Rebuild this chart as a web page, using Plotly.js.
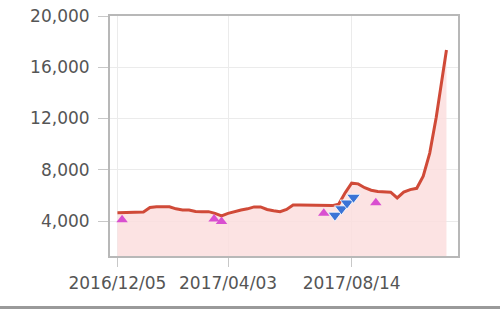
<!DOCTYPE html>
<html><head><meta charset="utf-8">
<script src="https://cdn.plot.ly/plotly-3.0.1.min.js"></script>
<style>html,body{margin:0;padding:0;background:#fff}#chart{width:500px;height:309px}</style>
</head><body><div id="chart"></div>
<script>
const lineDates = ["2016-12-05","2016-12-12","2016-12-19","2016-12-26","2017-01-02","2017-01-09","2017-01-16","2017-01-23","2017-01-30","2017-02-06","2017-02-13","2017-02-20","2017-02-27","2017-03-06","2017-03-13","2017-03-20","2017-03-27","2017-04-03","2017-04-10","2017-04-17","2017-04-24","2017-05-01","2017-05-08","2017-05-15","2017-05-22","2017-05-29","2017-06-05","2017-06-12","2017-06-19","2017-06-26","2017-07-03","2017-07-10","2017-07-17","2017-07-24","2017-07-31","2017-08-07","2017-08-14","2017-08-21","2017-08-28","2017-09-04","2017-09-11","2017-09-18","2017-09-25","2017-10-02","2017-10-09","2017-10-16","2017-10-23","2017-10-30","2017-11-06","2017-11-13","2017-11-17","2017-11-21","2017-11-24"];
const lineValues = [4650,4650,4650,4650,4700,5050,5115,5115,5115,4950,4860,4860,4740,4730,4730,4600,4400,4600,4750,4860,4950,5100,5100,4900,4800,4730,4900,5250,5250,5250,5250,5250,5200,5200,5300,6200,6950,6900,6600,6400,6300,6300,6250,5800,6250,6450,6550,7500,9300,12100,14000,15800,17350];
const pinkDates = ["2016-12-10","2017-03-19","2017-03-27","2017-07-15","2017-09-09"];
const pinkValues = [4100,4150,3960,4600,5430];
const blueDates = ["2017-07-27","2017-08-03","2017-08-09","2017-08-16"];
const blueValues = [4450,4950,5400,5850];
const tickDates = ["2016-12-05","2017-04-03","2017-08-14"];
const tickLabels = ["2016/12/05","2017/04/03","2017/08/14"];
const yTicks = [4000,8000,12000,16000,20000];
const yTickLabels = ["4,000","8,000","12,000","16,000","20,000"];

const traces = [
  {x: lineDates, y: lineValues, type:'scatter', mode:'lines', fill:'tozeroy',
   fillcolor:'rgba(252,222,222,0.85)', line:{color:'#d04a38', width:3}, hoverinfo:'none'},
  {x: pinkDates, y: pinkValues, type:'scatter', mode:'markers',
   marker:{symbol:'triangle-up', size:10, color:'#d94fd0'}},
  {x: blueDates, y: blueValues, type:'scatter', mode:'markers',
   marker:{symbol:'triangle-down', size:12, color:'#3b74d6', line:{color:'#ffffff', width:0.8}}}
];
const axisFont = {family:'"DejaVu Sans", Verdana, sans-serif', size:17, color:'#555555'};
const layout = {
  width:500, height:309, showlegend:false,
  margin:{l:110, r:42, t:16, b:53},
  paper_bgcolor:'#ffffff', plot_bgcolor:'#ffffff',
  xaxis:{type:'date', range:['2016-11-27','2017-12-06 10:00'],
    tickvals: tickDates, ticktext: tickLabels, tickfont: axisFont,
    showgrid:true, gridcolor:'#ebebeb', gridwidth:1,
    showline:true, linecolor:'#b8b8b8', linewidth:2, mirror:true,
    ticks:'outside', ticklen:9, tickcolor:'#c8c8c8', zeroline:false, ticklabelstandoff:2},
  yaxis:{range:[1268,20000], tickvals:yTicks, ticktext:yTickLabels, tickfont:axisFont,
    showgrid:true, gridcolor:'#ebebeb', gridwidth:1,
    showline:true, linecolor:'#b8b8b8', linewidth:2, mirror:true,
    ticks:'outside', ticklen:10, tickcolor:'#c8c8c8', zeroline:false, ticklabelstandoff:5},
  shapes:[{type:'line', xref:'paper', yref:'paper', x0:-0.4, x1:1.2, y0:-0.215, y1:-0.215,
    line:{color:'#9a9a9a', width:3}}]
};
Plotly.newPlot('chart', traces, layout, {staticPlot:true, displayModeBar:false});
</script></body></html>
